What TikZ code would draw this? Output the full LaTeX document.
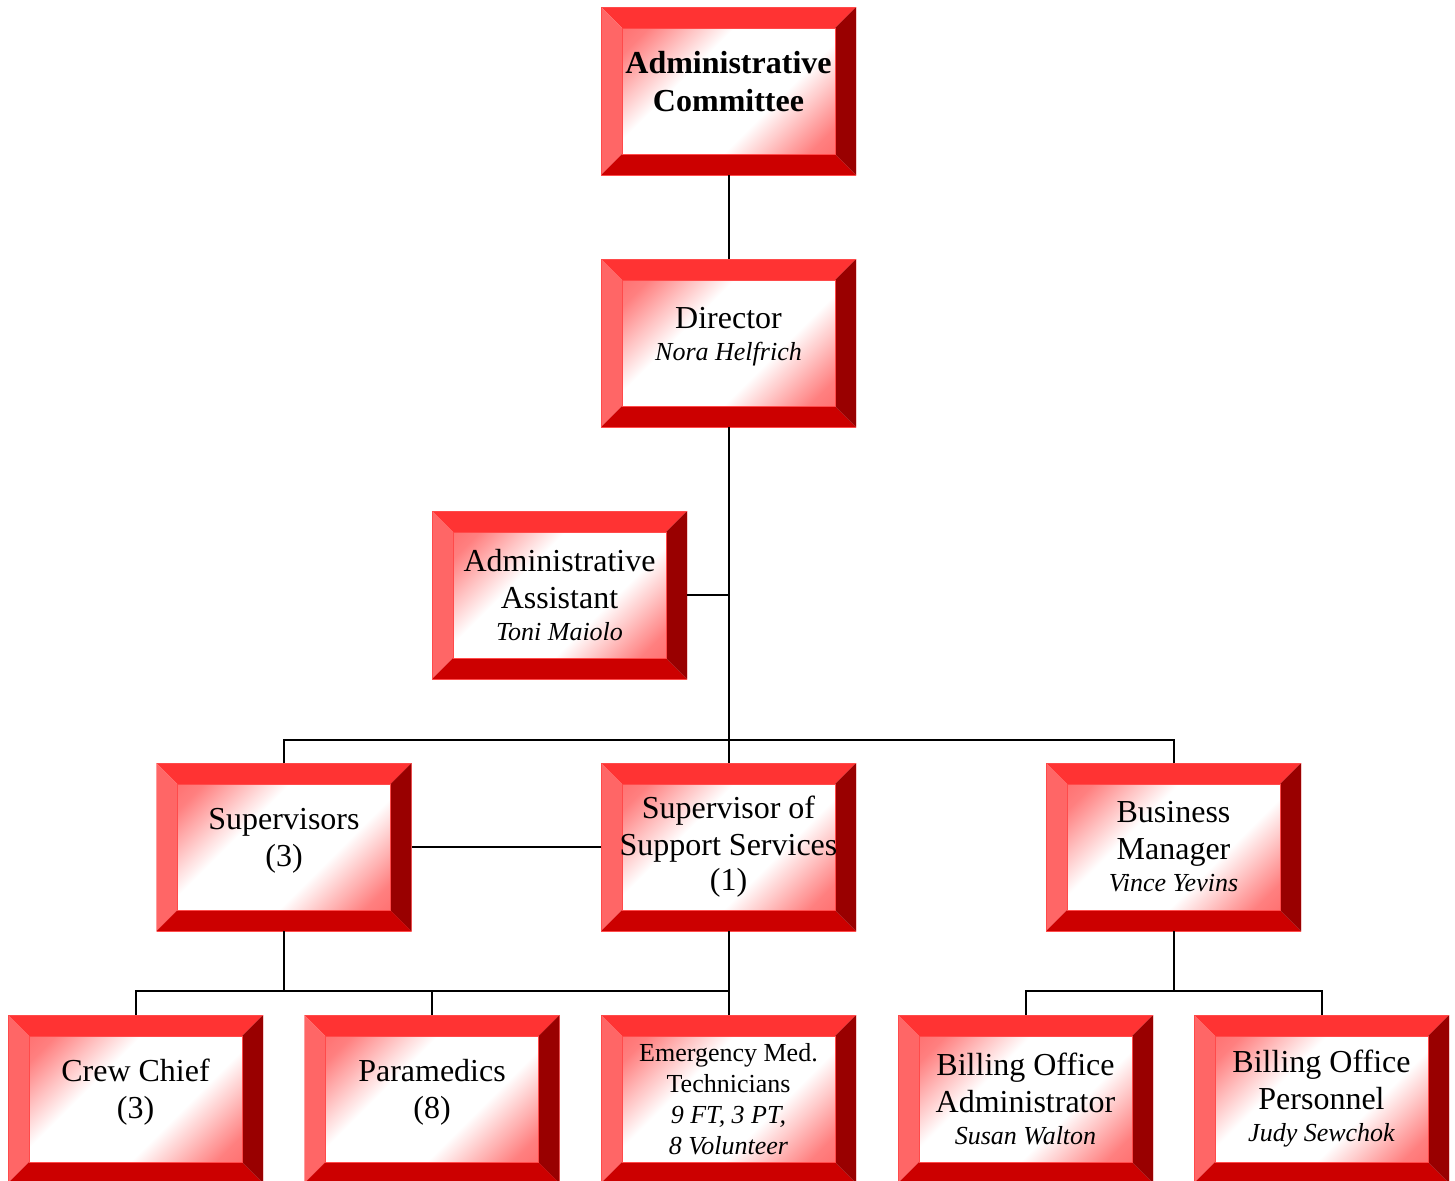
\documentclass[tikz,border=0pt]{standalone}
\usepackage{fontspec}
\setmainfont{Liberation Serif}
\definecolor{bevtop}{HTML}{FF3333}
\definecolor{bevleft}{HTML}{FF6666}
\definecolor{bevbottom}{HTML}{CC0000}
\definecolor{bevright}{HTML}{990000}
\definecolor{bevedge}{HTML}{FF4A4A}
\pgfdeclareverticalshading{facefade}{100bp}{%
  color(0bp)=(red!70); color(20bp)=(red!50); color(38bp)=(white);
  color(62bp)=(white); color(80bp)=(red!50); color(100bp)=(red!70)}
\tikzset{
  link/.style={line width=1pt, draw=black},
  orgbox/.style={
    minimum width=127.5pt,
    minimum height=84pt,
    inner sep=0pt,
    align=center,
    font=\fontsize{16}{18.5}\selectfont,
    path picture={
      % outer corners and inner face corners
      \coordinate (pnw) at (path picture bounding box.north west);
      \coordinate (pne) at (path picture bounding box.north east);
      \coordinate (pse) at (path picture bounding box.south east);
      \coordinate (psw) at (path picture bounding box.south west);
      \coordinate (qnw) at ([shift={(10.5pt,-10.5pt)}]path picture bounding box.north west);
      \coordinate (qne) at ([shift={(-10.5pt,-10.5pt)}]path picture bounding box.north east);
      \coordinate (qse) at ([shift={(-10.5pt,10.5pt)}]path picture bounding box.south east);
      \coordinate (qsw) at ([shift={(10.5pt,10.5pt)}]path picture bounding box.south west);
      \fill[bevtop] (pnw) -- (pne) -- (qne) -- (qnw) -- cycle;
      \fill[bevleft] (pnw) -- (qnw) -- (qsw) -- (psw) -- cycle;
      \fill[bevbottom] (psw) -- (qsw) -- (qse) -- (pse) -- cycle;
      \fill[bevright] (pne) -- (pse) -- (qse) -- (qne) -- cycle;
      \shade[shading=facefade, shading angle=45] (qsw) rectangle (qne);
      \draw[bevedge, line width=0.5pt] (psw) rectangle (pne) (qsw) rectangle (qne);
    }
  },
  smallbox/.style={orgbox, font=\fontsize{13}{15.5}\selectfont}
}
\newcommand{\who}[1]{{\fontsize{13}{16}\selectfont\itshape #1}}
% two-line labels sit a little above the middle
\newcommand{\uptext}[1]{\raisebox{3pt}[\height][\depth]{\begin{tabular}{@{}c@{}}#1\end{tabular}}}

\begin{document}
\begin{tikzpicture}[x=0.5pt, y=-0.5pt]
  \useasboundingbox (0,0) rectangle (1455,1180);
  % top of the chart
  \node[orgbox, font=\fontsize{16}{19}\selectfont\bfseries] (cmte) at (728.5,91)
    {\uptext{Administrative\\Committee}};
  \node[orgbox] (dir) at (728.5,343) {\uptext{Director\\[-2.5pt]\who{Nora Helfrich}}};
  \node[orgbox] (asst) at (559.5,595) {Administrative\\Assistant\\[-2.5pt]\who{Toni Maiolo}};
  % middle row
  \node[orgbox] (sup) at (284,847) {\uptext{Supervisors\\(3)}};
  \node[orgbox] (sss) at (728.5,847) {Supervisor of\\Support Services\\[-1pt](1)};
  \node[orgbox] (bm) at (1173.5,847) {Business\\Manager\\[-2.5pt]\who{Vince Yevins}};
  % bottom row
  \node[orgbox] (crew) at (135.5,1099) {\uptext{Crew Chief\\(3)}};
  \node[orgbox] (para) at (432,1099) {\uptext{Paramedics\\(8)}};
  \node[smallbox] (emt) at (728.5,1099)
    {Emergency Med.\\Technicians\\\textit{9 FT, 3 PT,}\\\textit{8 Volunteer}};
  \node[orgbox] (boa) at (1025.5,1099) {Billing Office\\Administrator\\[-2.5pt]\who{Susan Walton}};
  \node[orgbox] (bop) at (1321.5,1099) {Billing Office\\Personnel\\[-2.5pt]\who{Judy Sewchok}};
  % bars
  \coordinate (upperbar) at (728.5,740);
  \coordinate (crewbar) at (284,991);
  \coordinate (billbar) at (1173.5,991);
  % connectors
  \draw[link] (cmte) -- (dir);
  \draw[link] (dir) -- (sss);
  \draw[link] (asst.east) -- (asst.east -| dir.south);
  \draw[link] (sup.north) |- (upperbar) -| (bm.north);
  \draw[link] (sup.east) -- (sss.west);
  \draw[link] (sup.south) -- (crewbar);
  \draw[link] (crew.north) |- (crewbar) -| (emt.north);
  \draw[link] (para.north) -- (para.north |- crewbar);
  \draw[link] (sss) -- (emt);
  \draw[link] (bm.south) -- (billbar);
  \draw[link] (boa.north) |- (billbar) -| (bop.north);
\end{tikzpicture}
\end{document}
